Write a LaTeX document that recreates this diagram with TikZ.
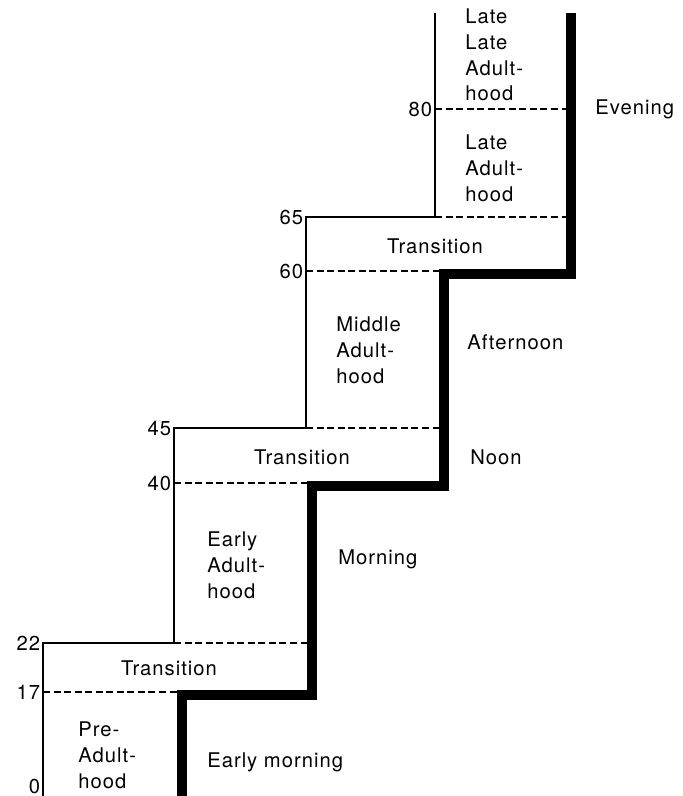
\documentclass[tikz,border=0pt]{standalone}
\usepackage{fontspec}
\setmainfont[LetterSpace=5]{TeX Gyre Heros}
\begin{document}
\begin{tikzpicture}[scale=2, font=\fontsize{11.5}{14.7}\selectfont,
        stairs/.style={line width=1.1pt},
        daytime/.style={line width=6.2pt, line join=miter},
        bound/.style={line width=0.8pt, dash pattern=on 4pt off 2pt},
        age/.style={left, inner sep=1.5pt},
        era/.style={anchor=west, align=left, inner sep=0pt}]
\useasboundingbox (0,0) rectangle (6.82,7.96);
        \draw[stairs] (0.43,0)--(0.43,1.53)--(1.74,1.53)--(1.74,3.68)--(3.06,3.68)--(3.06,5.79)--(4.35,5.79)--(4.35,7.83);
        \draw[daytime] (1.82,0)--(1.82,1.01)--(3.12,1.01)--(3.12,3.10)--(4.44,3.10)--(4.44,5.22)--(5.71,5.22)--(5.71,7.83);
\draw[bound] (0.43,1.04)--(1.77,1.04);
\draw[bound] (1.74,1.53)--(3.07,1.53);
\draw[bound] (1.74,3.13)--(3.07,3.13);
\draw[bound] (3.06,3.68)--(4.39,3.68);
\draw[bound] (3.06,5.25)--(4.39,5.25);
\draw[bound] (4.35,5.79)--(5.66,5.79);
\draw[bound] (4.35,6.87)--(5.66,6.87);
\node[age] (a0) at (0.43,0.10){0};
\node[age] (a17) at (0.43,1.04){17};
\node[age] (a22) at (0.43,1.53){22};
\node[age] (a40) at (1.74,3.13){40};
\node[age] (a45) at (1.74,3.68){45};
\node[age] (a60) at (3.06,5.25){60};
\node[age] (a65) at (3.06,5.79){65};
\node[age] (a80) at (4.35,6.87){80};
\node[era] (pre) at (0.78,0.41){Pre-\\Adult-\\hood};
\node (tr1) at (1.69,1.28){Transition};
\node[era] (emorn) at (2.07,0.34){Early morning};
\node[era] (early) at (2.07,2.31){Early\\Adult-\\hood};
\node[era] (morn) at (3.38,2.37){Morning};
\node (tr2) at (3.02,3.39){Transition};
\node[era] (noon) at (4.70,3.39){Noon};
\node[era] (middle) at (3.36,4.46){Middle\\Adult-\\hood};
\node[era] (after) at (4.67,4.54){Afternoon};
\node (tr3) at (4.35,5.50){Transition};
\node[era] (late) at (4.65,6.28){Late\\Adult-\\hood};
\node[era] (latelate) at (4.65,7.41){Late\\Late\\Adult-\\hood};
\node[era] (eve) at (5.95,6.87){Evening};
    \end{tikzpicture}
\end{document}
